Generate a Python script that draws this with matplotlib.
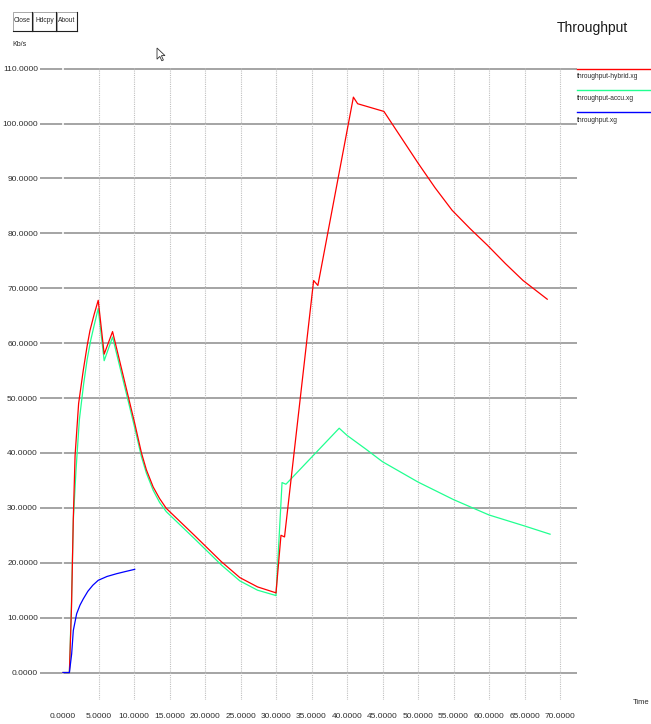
import numpy as np
import matplotlib.pyplot as plt
from matplotlib.patches import Rectangle, Polygon
from matplotlib.lines import Line2D

plt.rcParams['font.family'] = ['Liberation Sans', 'DejaVu Sans']

# data
hybrid_t = [0, 0.9, 1.2, 1.45, 1.7, 2.2, 2.85, 3.4, 3.8, 4.4, 4.96, 5.8, 6.98, 10.1,
            11.05, 11.75, 12.7, 13.6, 14.55, 18.5, 22.3, 24.9, 27.4, 29.8, 30.0, 30.7,
            31.2, 35.3, 35.9, 40.9, 41.5, 45.2, 50.0, 52.4, 54.8, 57.3, 59.8,
            62.3, 64.8, 68.2]
hybrid_kb = [0, 0, 12, 28, 39.5, 49, 55, 59.5, 62.3, 65.3, 67.8, 58.0, 62.1, 45.4,
             40.0, 36.9, 33.8, 31.7, 29.9, 25.0, 20.2, 17.3, 15.6, 14.6, 14.5, 25.0,
             24.7, 71.4, 70.5, 104.8, 103.6, 102.2, 92.8, 88.3, 84.2, 80.9, 77.8,
             74.5, 71.4, 68.0]

accu_t = [0, 0.9, 1.2, 1.45, 1.83, 2.3, 2.9, 3.4, 3.9, 4.4, 4.96, 5.8, 6.98, 10.1,
          11.05, 11.75, 12.7, 13.6, 14.55, 18.5, 22.3, 24.9, 27.4, 29.8, 30.0, 30.85,
          31.4, 38.9, 40.0, 42.65, 45.0, 50.0, 55.0, 60.0, 65.0, 68.6]
accu_kb = [0, 0, 13, 27.7, 36.8, 46, 52.5, 57, 60.5, 63.3, 66.3, 56.8, 61.1, 44.6,
           39.3, 36.3, 33.2, 31.0, 29.3, 24.4, 19.6, 16.7, 15.0, 14.1, 14.0, 34.6,
           34.3, 44.5, 43.2, 40.7, 38.4, 34.7, 31.5, 28.7, 26.7, 25.2]

plain_t = [0, 0.9, 1.22, 1.45, 1.92, 2.4, 2.85, 3.5, 4.2, 4.96, 6.2, 7.54, 8.8, 10.1]
plain_kb = [0, 0, 3.4, 7.65, 10.7, 12.3, 13.4, 14.8, 15.9, 16.8, 17.5, 18.0, 18.4, 18.8]

names = ['throughput-hybrid.xg', 'throughput-accu.xg', 'throughput.xg']
colors = ['#ff0000', '#20ff90', '#0000ff']

xticks = np.arange(0, 75, 5)
yticks = np.arange(0, 120, 10)

W, H = 651, 724
fig = plt.figure(figsize=(W / 100, H / 100), dpi=100)
fig.patch.set_facecolor('white')

ax = fig.add_axes([40 / W, (H - 700) / H, (577 - 40) / W, (700 - 67.5) / H])
ax.set_xlim(-23 / 7.1, 514 / 7.1)
ax.set_ylim(-5.0, 110.2)
for s in ax.spines.values():
    s.set_visible(False)

# grid: solid horizontal, dotted vertical
for y in yticks:
    ax.axhline(y, color='#8c8c8c', lw=1.1, zorder=1)
for x in xticks[1:]:
    ax.axvline(x, color='#c0c0c0', lw=0.8, ls=(0, (1, 1)), zorder=1)
ax.axvline(0, color='white', lw=1.2, zorder=1.5)

ax.set_xticks(xticks)
ax.set_xticklabels(['%.4f' % v for v in xticks])
ax.set_yticks(yticks)
ax.set_yticklabels(['%.4f' % v for v in yticks])
ax.tick_params(axis='both', length=0, labelsize=6, labelcolor='#2e2e2e')
ax.tick_params(axis='x', pad=9)
ax.tick_params(axis='y', pad=1.5)

ax.plot(accu_t, accu_kb, color=colors[1], lw=0.9, zorder=3)
ax.plot(hybrid_t, hybrid_kb, color=colors[0], lw=0.9, zorder=4)
ax.plot(plain_t, plain_kb, color=colors[2], lw=0.9, zorder=5)

# legend, xgraph style: coloured line above each name
for i, (name, c) in enumerate(zip(names, colors)):
    ly = 68.5 + i * 21.8
    fig.add_artist(Line2D([577 / W, 1.0], [1 - ly / H, 1 - ly / H], color=c, lw=1.0))
    fig.text(577 / W, 1 - (ly + 8) / H, name, fontsize=4.8, color='#2a2a2a',
             ha='left', va='center')

fig.text(592 / W, 1 - 28 / H, 'Throughput', fontsize=10, color='#1a1a1a',
         ha='center', va='center')
fig.text(12 / W, 1 - 45 / H, 'Kb/s', fontsize=5, color='#2a2a2a', ha='left', va='center')
fig.text(633 / W, 1 - 702 / H, 'Time', fontsize=5.5, color='#2a2a2a', ha='left', va='center')

# buttons
for label, x0, x1 in [('Close', 13, 32), ('Hdcpy', 33, 56), ('About', 57, 77)]:
    fig.add_artist(Rectangle((x0 / W, 1 - 31 / H), (x1 - x0) / W, 19 / H,
                             transform=fig.transFigure, facecolor='white',
                             edgecolor='#9a9a9a', lw=0.6))
    fig.add_artist(Line2D([x1 / W, x1 / W], [1 - 31 / H, 1 - 12 / H], color='#202020', lw=0.8))
    fig.add_artist(Line2D([x0 / W, x1 / W], [1 - 31 / H, 1 - 31 / H], color='#202020', lw=0.8))
    fig.text((x0 + x1) / 2 / W, 1 - 21 / H, label, fontsize=4.8, color='#2a2a2a',
             ha='center', va='center')

# mouse pointer left in the screenshot
px, py = 157, 48
shape = np.array([[0, 0], [0, 14], [3.5, 10.5], [6, 16], [8, 15], [5.5, 9.5], [10, 9.5]]) * 0.8
pts = [((px + dx) / W, 1 - (py + dy) / H) for dx, dy in shape]
fig.add_artist(Polygon(pts, closed=True, transform=fig.transFigure,
                       facecolor='white', edgecolor='#333333', lw=0.6))

fig.savefig('out.png', dpi=100)
